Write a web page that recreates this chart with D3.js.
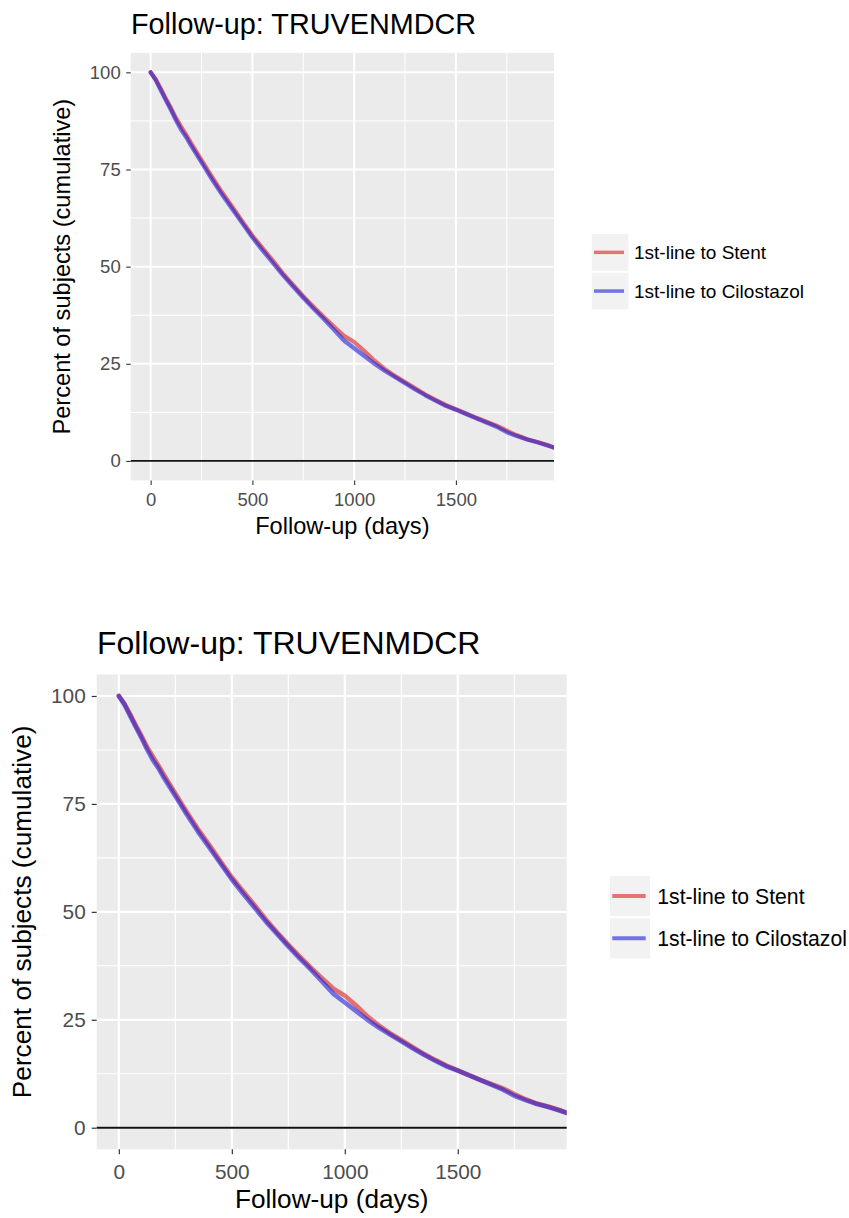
<!DOCTYPE html>
<html>
<head>
<meta charset="utf-8">
<script src="https://cdn.jsdelivr.net/npm/d3@7"></script>
<style>
  body { margin: 0; background: #ffffff; }
  svg { display: block; }
  text { font-family: "Liberation Sans", Arial, Helvetica, sans-serif; }
</style>
</head>
<body>
<svg id="chart" width="849" height="1218"></svg>
<script>
// ---- data ----
const titleText = "Follow-up: TRUVENMDCR";
const xAxisTitle = "Follow-up (days)";
const yAxisTitle = "Percent of subjects (cumulative)";
const seriesNames = ["1st-line to Stent", "1st-line to Cilostazol"];
const seriesColors = ["#dc1e1e", "#1e1edc"];

const days = [0, 25, 50, 75, 100, 125, 150, 175, 200, 250, 300, 350, 400, 450, 500,
  550, 600, 650, 700, 750, 800, 850, 900, 950, 1000, 1050, 1100, 1150, 1200, 1250,
  1300, 1350, 1400, 1450, 1500, 1550, 1600, 1650, 1700, 1750, 1800, 1850, 1900, 1950, 1990];

const stentPct = [100, 98.2, 95.8, 93.2, 90.8, 88.2, 86.0, 83.9, 81.7, 77.4, 73.2, 69.2, 65.5, 61.7, 58.0,
  54.8, 51.6, 48.3, 45.3, 42.4, 39.7, 37.1, 34.6, 32.2, 30.6, 28.3, 25.8, 23.7, 21.9, 20.3,
  18.7, 17.1, 15.7, 14.4, 13.3, 12.2, 11.1, 10.1, 9.1, 7.8, 6.6, 5.6, 4.9, 4.1, 3.3];

const cilostazolPct = [100, 98.0, 95.4, 92.8, 90.3, 87.6, 85.2, 83.3, 81.0, 76.8, 72.6, 68.6, 64.9, 61.2, 57.5,
  54.2, 51.0, 47.8, 44.9, 42.0, 39.2, 36.6, 33.8, 31.0, 29.0, 27.0, 25.0, 23.2, 21.6, 20.0,
  18.4, 16.9, 15.5, 14.2, 13.2, 12.1, 11.0, 9.9, 8.8, 7.4, 6.4, 5.5, 4.8, 4.0, 3.3];

const xMajorTicks = [0, 500, 1000, 1500];
const xMinorTicks = [250, 750, 1250, 1750];
const yMajorTicks = [0, 25, 50, 75, 100];
const yMinorTicks = [12.5, 37.5, 62.5, 87.5];
const xDomain = [-98, 1982];
const yDomain = [-5, 105];

const seriesValues = [stentPct, cilostazolPct];

// ---- layout of the two stacked panels ----
const layouts = [
  {
    id: "a",
    panel: { x0: 130.7, x1: 554, y0: 52.9, y1: 480.4 },
    title: { x: 131, y: 34, size: 28.8 },
    tickFont: 18.5, tickLen: 4.5, xPad: 8, yPad: 5.5, tickW: 1.1,
    axisTitleFont: 23.6, xTitleY: 534, yTitleX: 70,
    majorW: 2, minorW: 1, lineW: 4.2, zeroW: 1.8,
    legend: { x: 591.7, y: 234, key: 36.7, gap: 2, lx0: 594, lx1: 624, tx: 634, font: 19, lineW: 3.5 }
  },
  {
    id: "b",
    panel: { x0: 96.7, x1: 566.7, y0: 674.4, y1: 1149.3 },
    title: { x: 97, y: 654, size: 32 },
    tickFont: 20.8, tickLen: 5, xPad: 9.8, yPad: 6, tickW: 1.2,
    axisTitleFont: 26.2, xTitleY: 1208, yTitleX: 31,
    majorW: 2.2, minorW: 1.1, lineW: 4.6, zeroW: 2,
    legend: { x: 610, y: 876, key: 40, gap: 2.3, lx0: 612.3, lx1: 645.7, tx: 657.3, font: 21.2, lineW: 4 }
  }
];

const svg = d3.select("#chart");

function drawChart(L) {
  const p = L.panel;
  const x = d3.scaleLinear().domain(xDomain).range([p.x0, p.x1]);
  const y = d3.scaleLinear().domain(yDomain).range([p.y1, p.y0]);
  const g = svg.append("g");

  // panel background
  g.append("rect")
    .attr("x", p.x0).attr("y", p.y0)
    .attr("width", p.x1 - p.x0).attr("height", p.y1 - p.y0)
    .attr("fill", "#ebebeb");

  // grid lines
  const grid = g.append("g").attr("stroke", "#ffffff").attr("fill", "none");
  grid.selectAll("line.xmin").data(xMinorTicks).join("line")
    .attr("x1", d => x(d)).attr("x2", d => x(d)).attr("y1", p.y0).attr("y2", p.y1)
    .attr("stroke-width", L.minorW);
  grid.selectAll("line.ymin").data(yMinorTicks).join("line")
    .attr("y1", d => y(d)).attr("y2", d => y(d)).attr("x1", p.x0).attr("x2", p.x1)
    .attr("stroke-width", L.minorW);
  grid.selectAll("line.xmaj").data(xMajorTicks).join("line")
    .attr("x1", d => x(d)).attr("x2", d => x(d)).attr("y1", p.y0).attr("y2", p.y1)
    .attr("stroke-width", L.majorW);
  grid.selectAll("line.ymaj").data(yMajorTicks).join("line")
    .attr("y1", d => y(d)).attr("y2", d => y(d)).attr("x1", p.x0).attr("x2", p.x1)
    .attr("stroke-width", L.majorW);

  // horizontal reference line at zero
  g.append("line")
    .attr("x1", p.x0).attr("x2", p.x1).attr("y1", y(0)).attr("y2", y(0))
    .attr("stroke", "#111111").attr("stroke-width", L.zeroW);

  // survival curves, clipped to the panel
  const clipId = "clip-" + L.id;
  g.append("clipPath").attr("id", clipId).append("rect")
    .attr("x", p.x0).attr("y", p.y0).attr("width", p.x1 - p.x0).attr("height", p.y1 - p.y0);
  const line = d3.line().x(d => x(d[0])).y(d => y(d[1])).curve(d3.curveLinear);
  const curves = g.append("g").attr("clip-path", `url(#${clipId})`);
  seriesValues.forEach((vals, i) => {
    curves.append("path")
      .datum(days.map((d, k) => [d, vals[k]]))
      .attr("d", line)
      .attr("fill", "none")
      .attr("stroke", seriesColors[i])
      .attr("stroke-opacity", 0.6)
      .attr("stroke-width", L.lineW)
      .attr("stroke-linejoin", "round")
      .attr("stroke-linecap", "round");
  });

  // axes
  const xAxis = d3.axisBottom(x).tickValues(xMajorTicks).tickSize(L.tickLen).tickPadding(L.xPad).tickFormat(d3.format("d"));
  const yAxis = d3.axisLeft(y).tickValues(yMajorTicks).tickSize(L.tickLen).tickPadding(L.yPad).tickFormat(d3.format("d"));
  const gx = g.append("g").attr("transform", `translate(0,${p.y1})`).call(xAxis);
  const gy = g.append("g").attr("transform", `translate(${p.x0},0)`).call(yAxis);
  [gx, gy].forEach(a => {
    a.select(".domain").remove();
    a.selectAll(".tick line").attr("stroke", "#333333").attr("stroke-width", L.tickW);
    a.selectAll(".tick text")
      .attr("fill", "#4d4d4d")
      .style("font-size", L.tickFont + "px")
      .style("font-family", "'Liberation Sans', Arial, sans-serif");
  });

  // title
  g.append("text")
    .attr("x", L.title.x).attr("y", L.title.y)
    .attr("fill", "#000000")
    .style("font-size", L.title.size + "px")
    .text(titleText);

  // axis titles
  g.append("text")
    .attr("x", (p.x0 + p.x1) / 2).attr("y", L.xTitleY)
    .attr("text-anchor", "middle").attr("fill", "#000000")
    .style("font-size", L.axisTitleFont + "px")
    .text(xAxisTitle);
  g.append("text")
    .attr("transform", `translate(${L.yTitleX},${(p.y0 + p.y1) / 2}) rotate(-90)`)
    .attr("text-anchor", "middle").attr("fill", "#000000")
    .style("font-size", L.axisTitleFont + "px")
    .text(yAxisTitle);

  // legend
  const lg = L.legend;
  const items = g.append("g").selectAll("g").data(seriesNames).join("g")
    .attr("transform", (d, i) => `translate(0,${lg.y + i * (lg.key + lg.gap)})`);
  items.append("rect")
    .attr("x", lg.x).attr("y", 0).attr("width", lg.key).attr("height", lg.key)
    .attr("fill", "#f2f2f2");
  items.append("line")
    .attr("x1", lg.lx0).attr("x2", lg.lx1)
    .attr("y1", lg.key / 2).attr("y2", lg.key / 2)
    .attr("stroke", (d, i) => seriesColors[i])
    .attr("stroke-opacity", 0.6)
    .attr("stroke-width", lg.lineW);
  items.append("text")
    .attr("x", lg.tx).attr("y", lg.key / 2 + lg.font * 0.36)
    .attr("fill", "#000000")
    .style("font-size", lg.font + "px")
    .text(d => d);
}

layouts.forEach(drawChart);
</script>
</body>
</html>
